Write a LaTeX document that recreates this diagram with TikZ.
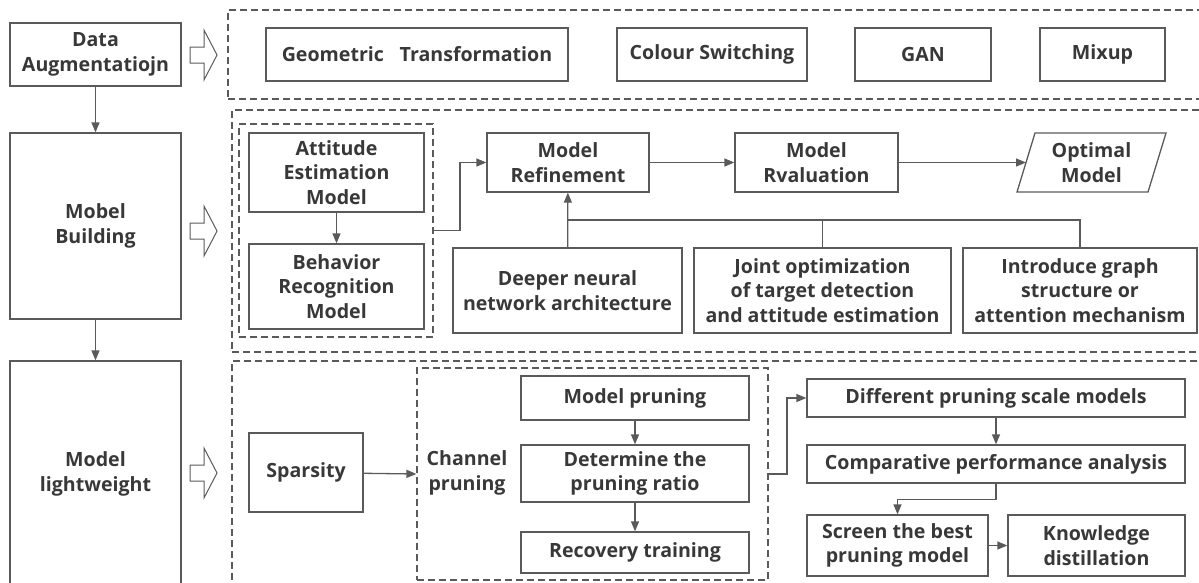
\documentclass[tikz,border=0pt]{standalone}
\usepackage{fontspec}
\setmainfont{Open Sans}
\usetikzlibrary{arrows.meta}
\definecolor{linegray}{HTML}{5A5A5A}
\definecolor{textgray}{HTML}{383838}
\tikzset{
	box/.style={draw=linegray,line width=1.3pt,text=textgray,align=center,inner sep=0pt,
		font=\fontsize{19.6}{24.5}\selectfont\bfseries},
	frame/.style={draw=linegray,line width=1.2pt,dash pattern=on 7pt off 4pt,inner sep=0pt},
	conn/.style={draw=linegray,line width=1.3pt},
	label/.style={text=textgray,align=center,font=\fontsize{19.6}{24.5}\selectfont\bfseries},
}
\begin{document}
\begin{tikzpicture}[x=1pt,y=-1pt,>={Triangle[length=10pt,width=8pt]}]
	\useasboundingbox (0,0) rectangle (1199,582);
	\clip (0,0) rectangle (1199,582);
	% left column
	\node[box,minimum width=171,minimum height=63] (aug) at (95.5,54.5) {Data\\Augmentatiojn};
	\node[box,minimum width=171,minimum height=186] (build) at (95.5,226) {Mobel\\Building};
	\node[box,minimum width=171,minimum height=226] (light) at (95.5,474) {Model\\lightweight};
	\draw[conn,->] (aug) -- (build);
	\draw[conn,->] (build) -- (light);
	% hollow arrows
	\foreach \y in {55,231,473}
	\draw[linegray,line width=1pt] (190,\y-8) -- (204,\y-8) -- (204,\y-25) -- (217,\y) -- (204,\y+25) -- (204,\y+8) -- (190,\y+8) -- cycle;
	% dashed frames
	\node[frame,minimum width=977,minimum height=89] (faug) at (716.5,54.5) {};
	\node[frame,minimum width=973,minimum height=242] (fbuild) at (718.5,231) {};
	\node[frame,minimum width=973,minimum height=229] (flight) at (718.5,475.5) {};
	% data augmentation
	\node[box,minimum width=302,minimum height=53] (geo) at (417,54.5) {Geometric\hspace{0.8em}Transformation};
	\node[box,minimum width=190,minimum height=53] (col) at (712,54.5) {Colour Switching};
	\node[box,minimum width=136,minimum height=53] (gan) at (923,54.5) {GAN};
	\node[box,minimum width=125,minimum height=53] (mix) at (1102.5,54.5) {Mixup};
	% model building
	\node[frame,minimum width=194,minimum height=213] (fatt) at (336,230.5) {};
	\node[box,minimum width=175,minimum height=79] (att) at (336.5,172.5) {Attitude\\Estimation\\Model};
	\node[box,minimum width=175,minimum height=85] (beh) at (336.5,286.5) {Behavior\\Recognition\\Model};
	\draw[conn,->] (att) -- (beh);
	\node[box,minimum width=162,minimum height=59] (ref) at (568,162.5) {Model\\Refinement};
	\node[box,minimum width=163,minimum height=59] (rev) at (816.5,162.5) {Model\\Rvaluation};
	\draw[linegray,line width=1.3pt] (1035,133) -- (1166,133) -- (1148,192) -- (1017,192) -- cycle;
	\node[label] (opt) at (1091.5,162.5) {Optimal\\Model};
	\coordinate (optin) at (1026,162.5);
	\draw[conn,->] (fatt.east) -- (460,230.5) |- (ref.west);
	\draw[conn,->] (ref) -- (rev);
	\draw[conn,->] (rev) -- (optin);
	\node[box,minimum width=229,minimum height=85] (deep) at (567.5,290.5) {Deeper neural\\network architecture};
	\node[box,minimum width=257,minimum height=85] (joint) at (822.5,290.5) {Joint optimization\\of target detection\\and attitude estimation};
	\node[box,minimum width=234,minimum height=85] (intro) at (1080,290.5) {Introduce graph\\structure or\\attention mechanism};
	\coordinate (fb) at (568,220);
	\draw[conn,->] (deep) -- (ref);
	\draw[conn] (intro.north) |- (fb);
	\draw[conn] (joint.north) -- (joint.north |- fb);
	% model lightweight
	\node[box,minimum width=114,minimum height=79] (spa) at (306,472.5) {Sparsity};
	\node[frame,minimum width=351,minimum height=212] (fchan) at (592.5,474) {};
	\node[label] (chan) at (467,473) {Channel\\pruning};
	\node[box,minimum width=228,minimum height=44] (mp) at (635,398) {Model pruning};
	\node[box,minimum width=228,minimum height=57] (dr) at (635,473.5) {Determine the\\pruning ratio};
	\node[box,minimum width=228,minimum height=41] (rt) at (635,552.5) {Recovery training};
	\draw[conn,->] (mp) -- (dr);
	\draw[conn,->] (dr) -- (rt);
	\draw[conn,->] (spa) -- (fchan.west);
	\node[box,minimum width=378,minimum height=38] (diff) at (996,398) {Different pruning scale models};
	\node[box,minimum width=378,minimum height=38] (comp) at (996,464) {Comparative performance analysis};
	\node[box,minimum width=181,minimum height=61] (scr) at (897.5,545.5) {Screen the best\\pruning model};
	\node[box,minimum width=177,minimum height=61] (kd) at (1096.5,545.5) {Knowledge\\distillation};
	\draw[conn,->] (fchan.east) -- (787,474) |- (diff.west);
	\draw[conn,->] (diff) -- (comp);
	\draw[conn,->] (comp.south) -- ++(0,16) -| (scr.north);
	\draw[conn,->] (scr) -- (kd);
\end{tikzpicture}
\end{document}
